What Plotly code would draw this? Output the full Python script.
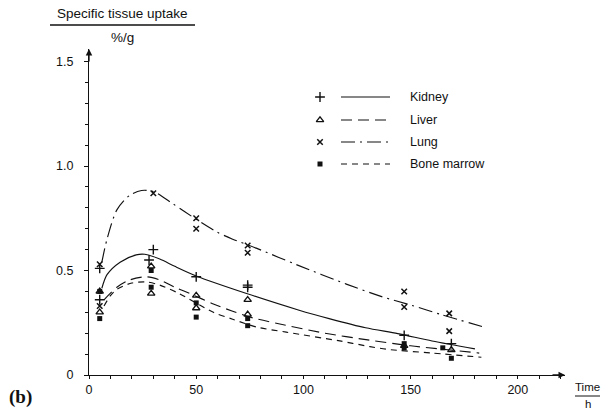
import plotly.graph_objects as go

# ---------------- data ----------------
kidney_t = [5, 5, 28, 30, 50, 74, 74, 147, 169]
kidney_v = [0.51, 0.36, 0.55, 0.60, 0.47, 0.43, 0.42, 0.19, 0.15]

liver_t = [5, 5, 29, 29, 50, 50, 74, 74, 147, 169]
liver_v = [0.40, 0.30, 0.52, 0.39, 0.38, 0.32, 0.36, 0.29, 0.14, 0.12]

lung_t = [5, 5, 30, 50, 50, 74, 74, 147, 147, 168, 168]
lung_v = [0.53, 0.33, 0.87, 0.75, 0.70, 0.62, 0.585, 0.40, 0.325, 0.295, 0.21]

marrow_t = [5, 5, 29, 29, 50, 50, 74, 74, 147, 147, 165, 169]
marrow_v = [0.40, 0.27, 0.50, 0.42, 0.345, 0.277, 0.27, 0.236, 0.13, 0.15, 0.13, 0.08]

kidney_fit_t = [6, 8.4, 14.5, 22, 26, 33, 40, 50, 73.5, 98, 112, 129, 144, 160, 180]
kidney_fit_v = [0.415, 0.48, 0.54, 0.575, 0.578, 0.555, 0.52, 0.474, 0.39, 0.31, 0.27, 0.226, 0.198, 0.163, 0.125]

lung_fit_t = [6, 8.4, 13, 19, 24.5, 30, 39, 50, 59.5, 67, 78, 97, 120, 136.5, 150, 164, 184]
lung_fit_v = [0.54, 0.65, 0.79, 0.86, 0.883, 0.878, 0.82, 0.745, 0.685, 0.65, 0.607, 0.527, 0.435, 0.375, 0.335, 0.29, 0.23]

liver_fit_t = [7, 13, 19, 27, 33, 40, 47, 58, 67, 76.5, 89, 110, 130, 150, 182]
liver_fit_v = [0.36, 0.42, 0.455, 0.47, 0.455, 0.42, 0.39, 0.34, 0.305, 0.273, 0.244, 0.2, 0.168, 0.14, 0.105]

marrow_fit_t = [7, 10, 13, 20, 27, 33, 42, 58, 67, 78, 92, 117, 131, 139, 160, 183]
marrow_fit_v = [0.33, 0.38, 0.41, 0.44, 0.445, 0.43, 0.39, 0.30, 0.267, 0.23, 0.205, 0.163, 0.136, 0.123, 0.105, 0.085]

x_ticks = [0, 50, 100, 150, 200]
y_ticks = [0, 0.5, 1.0, 1.5]
y_ticktext = ["0", "0.5", "1.0", "1.5"]

series_names = ["Kidney", "Liver", "Lung", "Bone marrow"]

# ---------------- layout geometry ----------------
W, H = 608, 411
ML, MR, MT, MB = 89, 43, 49, 36
PW, PH = W - ML - MR, H - MT - MB
XMAX, YMAX = 222, 1.56


def px2paper(x, y):
    return (x - ML) / PW, (H - MB - y) / PH


FONT = "Liberation Sans, Arial, sans-serif"
BLACK = "#111111"

dash_kidney = "solid"
dash_liver = "11px,6px"
dash_lung = "14px,5px,2px,5px"
dash_marrow = "6px,5px"

fig = go.Figure()

line_w = 1.15
fits = [
    (kidney_fit_t, kidney_fit_v, dash_kidney),
    (liver_fit_t, liver_fit_v, dash_liver),
    (lung_fit_t, lung_fit_v, dash_lung),
    (marrow_fit_t, marrow_fit_v, dash_marrow),
]
for t, v, d in fits:
    fig.add_trace(go.Scatter(x=t, y=v, mode="lines",
                             line=dict(color=BLACK, width=line_w, dash=d, shape="spline", smoothing=0.8),
                             hoverinfo="skip", showlegend=False))

sym = [
    (kidney_t, kidney_v, "cross-thin", 7, dict(color=BLACK, width=1.4), BLACK),
    (liver_t, liver_v, "triangle-up-open", 6.5, dict(color=BLACK, width=1.3), BLACK),
    (lung_t, lung_v, "x-thin", 5.5, dict(color=BLACK, width=1.5), BLACK),
    (marrow_t, marrow_v, "square", 5, dict(color=BLACK, width=0), BLACK),
]
for t, v, s, sz, ln, c in sym:
    fig.add_trace(go.Scatter(x=t, y=v, mode="markers",
                             marker=dict(symbol=s, size=sz, color=c, line=ln),
                             hoverinfo="skip", showlegend=False))

# ---------------- custom legend (overlay pixel axes) ----------------
leg_y = [97, 120, 142, 164]
leg_sym = [("cross-thin", 7, 1.4), ("triangle-up-open", 6.5, 1.3), ("x-thin", 5.5, 1.5), ("square", 5, 0)]
leg_dash = [dash_kidney, dash_liver, dash_lung, dash_marrow]
for i in range(4):
    s, sz, lw = leg_sym[i]
    fig.add_trace(go.Scatter(x=[320], y=[leg_y[i]], xaxis="x2", yaxis="y2", mode="markers",
                             marker=dict(symbol=s, size=sz, color=BLACK, line=dict(color=BLACK, width=lw)),
                             hoverinfo="skip", showlegend=False))
    fig.add_trace(go.Scatter(x=[341, 390], y=[leg_y[i], leg_y[i]], xaxis="x2", yaxis="y2", mode="lines",
                             line=dict(color=BLACK, width=line_w, dash=leg_dash[i]),
                             hoverinfo="skip", showlegend=False))
    fig.add_annotation(x=408, y=leg_y[i], xref="x2", yref="y2", text=series_names[i], showarrow=False,
                       xanchor="left", yanchor="middle", font=dict(family=FONT, size=12.5, color=BLACK))

# ---------------- titles ----------------
annos = []
x0, y0 = px2paper(122, 14)
annos.append(dict(x=x0, y=y0, xref="paper", yref="paper", text="Specific tissue uptake", showarrow=False,
                  xanchor="center", yanchor="middle", font=dict(family=FONT, size=13.5, color=BLACK)))
x0, y0 = px2paper(122, 37)
annos.append(dict(x=x0, y=y0, xref="paper", yref="paper", text="%/g", showarrow=False,
                  xanchor="center", yanchor="middle", font=dict(family=FONT, size=13.5, color=BLACK)))
x0, y0 = px2paper(587, 387)
annos.append(dict(x=x0, y=y0, xref="paper", yref="paper", text="Time", showarrow=False,
                  xanchor="center", yanchor="middle", font=dict(family=FONT, size=11.5, color=BLACK)))
x0, y0 = px2paper(588, 404)
annos.append(dict(x=x0, y=y0, xref="paper", yref="paper", text="h", showarrow=False,
                  xanchor="center", yanchor="middle", font=dict(family=FONT, size=11.5, color=BLACK)))
x0, y0 = px2paper(20, 397)
annos.append(dict(x=x0, y=y0, xref="paper", yref="paper", text="<b>(b)</b>", showarrow=False,
                  xanchor="center", yanchor="middle", font=dict(family="Liberation Serif, serif", size=19, color=BLACK)))
# axis arrows
annos.append(dict(x=XMAX, y=0, xref="x", yref="y", ax=-14, ay=0, text="", showarrow=True,
                  arrowhead=2, arrowsize=1, arrowwidth=1.3, arrowcolor=BLACK))
annos.append(dict(x=0, y=YMAX, xref="x", yref="y", ax=0, ay=14, text="", showarrow=True,
                  arrowhead=2, arrowsize=1, arrowwidth=1.3, arrowcolor=BLACK))
for a in annos:
    fig.add_annotation(**a)

shapes = []
ax0, ay0 = px2paper(50, 25)
ax1, _ = px2paper(195, 25)
shapes.append(dict(type="line", xref="paper", yref="paper", x0=ax0, x1=ax1, y0=ay0, y1=ay0,
                   line=dict(color=BLACK, width=1.3)))
bx0, by0 = px2paper(575, 396)
bx1, _ = px2paper(600, 396)
shapes.append(dict(type="line", xref="paper", yref="paper", x0=bx0, x1=bx1, y0=by0, y1=by0,
                   line=dict(color=BLACK, width=1)))

fig.update_layout(
    width=W, height=H,
    margin=dict(l=ML, r=MR, t=MT, b=MB, pad=0),
    paper_bgcolor="white", plot_bgcolor="white",
    showlegend=False,
    shapes=shapes,
    xaxis=dict(range=[0, XMAX], showgrid=False, zeroline=False, showline=True, linecolor=BLACK, linewidth=1.3,
               tickmode="array", tickvals=x_ticks, ticks="outside", ticklen=3, tickwidth=1, tickcolor=BLACK,
               minor=dict(dtick=10, ticks="outside", ticklen=3, tickcolor=BLACK, tickwidth=1, showgrid=False),
               tickfont=dict(family=FONT, size=12.5, color=BLACK)),
    yaxis=dict(range=[0, YMAX], showgrid=False, zeroline=False, showline=True, linecolor=BLACK, linewidth=1.3,
               tickmode="array", tickvals=y_ticks, ticktext=y_ticktext, ticks="outside", ticklen=4, tickwidth=1,
               tickcolor=BLACK, ticklabelstandoff=8,
               minor=dict(dtick=0.1, ticks="outside", ticklen=3, tickcolor=BLACK, tickwidth=1, showgrid=False),
               tickfont=dict(family=FONT, size=12.5, color=BLACK)),
    xaxis2=dict(overlaying="x", range=[ML, W - MR], visible=False, fixedrange=True),
    yaxis2=dict(overlaying="y", range=[H - MB, MT], visible=False, fixedrange=True),
)

fig.write_html("out.html")
